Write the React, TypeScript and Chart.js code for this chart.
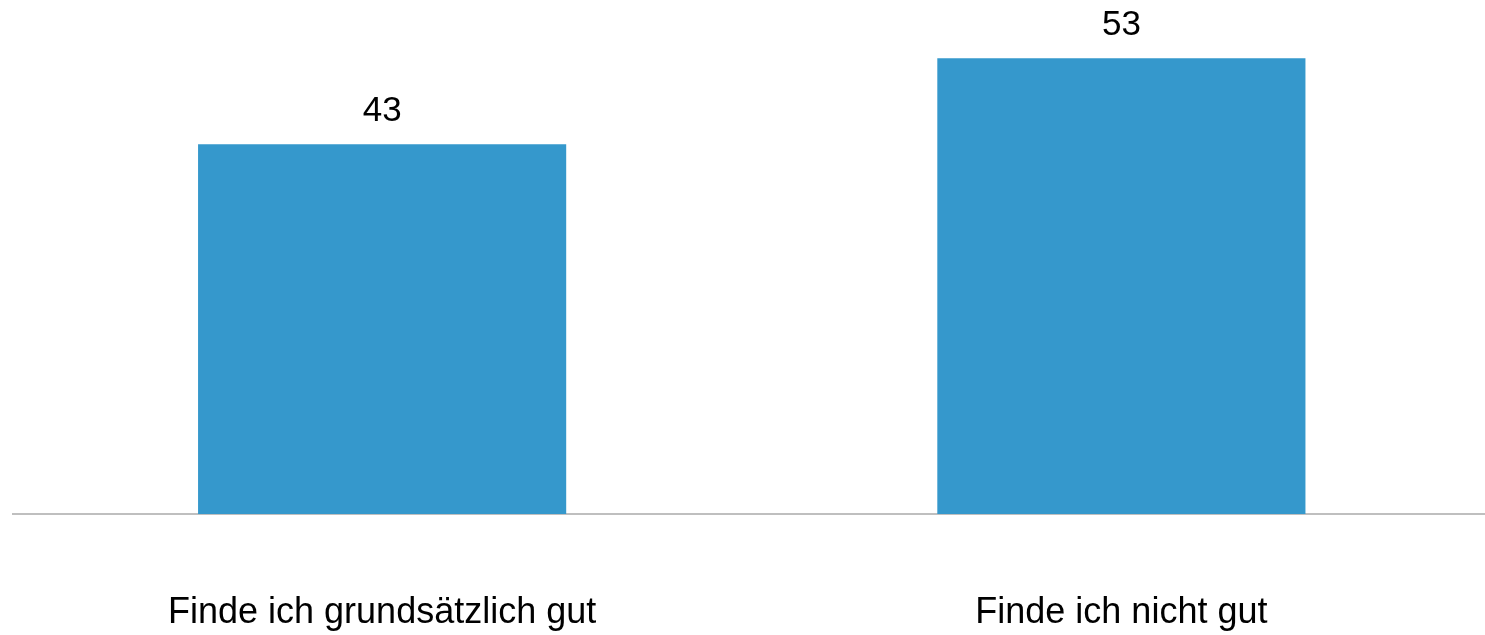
import React, { useEffect, useRef } from "react";
import { Chart, registerables } from "chart.js";

Chart.register(...registerables);

const categories: string[] = ["Finde ich grundsätzlich gut", "Finde ich nicht gut"];
const values: number[] = [43, 53];
const yMin = 0;
const yMax = 60;

const FONT_FAMILY = "'Liberation Sans', Arial, Helvetica, sans-serif";

const valueLabelPlugin = {
  id: "valueLabels",
  afterDatasetsDraw(chart: any) {
    const ctx = chart.ctx;
    const meta = chart.getDatasetMeta(0);
    ctx.save();
    ctx.font = `35px ${FONT_FAMILY}`;
    ctx.fillStyle = "#000000";
    ctx.textAlign = "center";
    ctx.textBaseline = "middle";
    meta.data.forEach((bar: any, i: number) => {
      ctx.fillText(String(values[i]), bar.x, bar.y - 33);
    });
    ctx.restore();
  },
};

export default function App() {
  const canvasRef = useRef<HTMLCanvasElement | null>(null);

  useEffect(() => {
    if (!canvasRef.current) return;
    const chart = new Chart(canvasRef.current, {
      type: "bar",
      data: {
        labels: categories,
        datasets: [
          {
            data: values,
            backgroundColor: "#3598CC",
            borderWidth: 0,
            barPercentage: 1,
            categoryPercentage: 0.498,
          },
        ],
      },
      options: {
        animation: false,
        responsive: true,
        maintainAspectRatio: false,
        layout: { padding: { left: 12.5, right: 0, top: 0, bottom: 0 } },
        plugins: {
          legend: { display: false },
          tooltip: { enabled: false },
        },
        scales: {
          x: {
            grid: { display: false, drawTicks: false },
            border: { display: true, color: "#BFBFBF", width: 2 },
            ticks: {
              color: "#000000",
              padding: 77,
              maxRotation: 0,
              autoSkip: false,
              font: { family: FONT_FAMILY, size: 36 },
            },
            afterFit: (scale: any) => {
              scale.height = 121;
            },
          },
          y: {
            display: false,
            min: yMin,
            max: yMax,
          },
        },
      },
      plugins: [valueLabelPlugin],
    });
    return () => chart.destroy();
  }, []);

  return (
    <div
      style={{
        position: "fixed",
        left: 0,
        top: 0,
        width: 1485,
        height: 635,
        overflow: "hidden",
        background: "#ffffff",
      }}
    >
      <div style={{ position: "absolute", left: 0, top: -2, width: 1491, height: 637 }}>
        <canvas ref={canvasRef} />
      </div>
    </div>
  );
}
